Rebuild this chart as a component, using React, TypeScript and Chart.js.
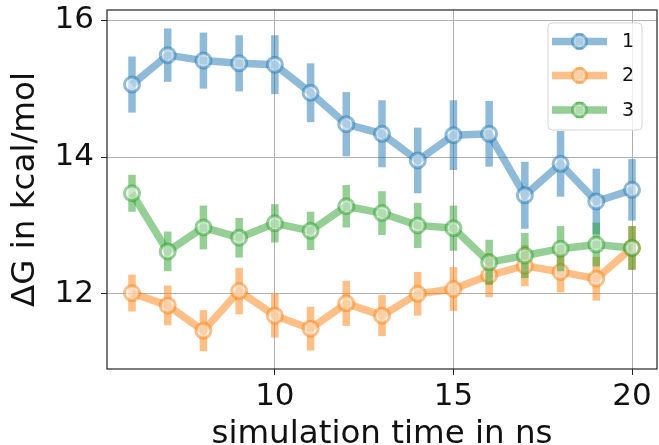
import React, { useEffect, useRef } from "react";
import { Chart, registerables } from "chart.js";

Chart.register(...registerables);

const times = [6, 7, 8, 9, 10, 11, 12, 13, 14, 15, 16, 17, 18, 19, 20];
const series1 = [15.06, 15.49, 15.41, 15.37, 15.35, 14.94, 14.48, 14.34, 13.95, 14.32, 14.34, 13.44, 13.9, 13.35, 13.52];
const err1 = [0.41, 0.39, 0.41, 0.41, 0.43, 0.43, 0.47, 0.49, 0.48, 0.51, 0.48, 0.49, 0.48, 0.48, 0.45];
const series2 = [12.01, 11.83, 11.46, 12.04, 11.68, 11.49, 11.86, 11.68, 12.0, 12.07, 12.27, 12.41, 12.32, 12.22, 12.67];
const err2 = [0.27, 0.29, 0.3, 0.34, 0.32, 0.32, 0.33, 0.3, 0.32, 0.32, 0.32, 0.3, 0.3, 0.32, 0.32];
const series3 = [13.47, 12.62, 12.97, 12.82, 13.03, 12.92, 13.28, 13.18, 13.0, 12.96, 12.46, 12.56, 12.66, 12.72, 12.67];
const err3 = [0.27, 0.29, 0.32, 0.29, 0.28, 0.28, 0.31, 0.32, 0.33, 0.33, 0.33, 0.33, 0.33, 0.32, 0.32];
const seriesLabels = ["1", "2", "3"];
const xTicks = [10, 15, 20];
const yTicks = [12, 14, 16];
const xTitle = "simulation time in ns";
const yTitle = "ΔG in kcal/mol";

const baseColors = ["31,119,180", "255,127,14", "44,160,44"];
const FONT = "'DejaVu Sans', sans-serif";

export default function App() {
  const ref = useRef<HTMLCanvasElement | null>(null);

  useEffect(() => {
    document.body.style.margin = "0";
    const canvas = ref.current;
    if (!canvas) return;
    const values = [series1, series2, series3];
    const errs = [err1, err2, err3];

    const errorBars = {
      id: "errorBars",
      beforeDatasetDraw(chart: any, args: any) {
        const i = args.index;
        const ctx = chart.ctx;
        const xs = chart.scales.x;
        const ys = chart.scales.y;
        const a = chart.chartArea;
        ctx.save();
        ctx.beginPath();
        ctx.rect(a.left, a.top, a.right - a.left, a.bottom - a.top);
        ctx.clip();
        ctx.strokeStyle = `rgba(${baseColors[i]},0.5)`;
        ctx.lineWidth = 7.5;
        ctx.lineCap = "butt";
        times.forEach((t, k) => {
          const x = xs.getPixelForValue(t);
          const y1 = ys.getPixelForValue(values[i][k] + errs[i][k]);
          const y2 = ys.getPixelForValue(values[i][k] - errs[i][k]);
          ctx.beginPath();
          ctx.moveTo(x, y1);
          ctx.lineTo(x, y2);
          ctx.stroke();
        });
        ctx.restore();
      },
    };

    const frameAndLegend = {
      id: "frameAndLegend",
      afterDraw(chart: any) {
        const ctx = chart.ctx;
        const a = chart.chartArea;
        ctx.save();
        ctx.strokeStyle = "#222";
        ctx.lineWidth = 1.2;
        ctx.strokeRect(a.left, a.top, a.right - a.left, a.bottom - a.top);

        // legend
        const lx = 548, ly = 23, lw = 94, lh = 107, r = 4;
        ctx.beginPath();
        ctx.moveTo(lx + r, ly);
        ctx.lineTo(lx + lw - r, ly);
        ctx.quadraticCurveTo(lx + lw, ly, lx + lw, ly + r);
        ctx.lineTo(lx + lw, ly + lh - r);
        ctx.quadraticCurveTo(lx + lw, ly + lh, lx + lw - r, ly + lh);
        ctx.lineTo(lx + r, ly + lh);
        ctx.quadraticCurveTo(lx, ly + lh, lx, ly + lh - r);
        ctx.lineTo(lx, ly + r);
        ctx.quadraticCurveTo(lx, ly, lx + r, ly);
        ctx.closePath();
        ctx.fillStyle = "rgba(255,255,255,0.8)";
        ctx.fill();
        ctx.strokeStyle = "#d5d5d5";
        ctx.lineWidth = 1;
        ctx.stroke();

        const rows = [41.5, 75.5, 110];
        seriesLabels.forEach((lab, i) => {
          const y = rows[i];
          const c = baseColors[i];
          ctx.strokeStyle = `rgba(${c},0.5)`;
          ctx.lineWidth = 7.5;
          ctx.lineCap = "butt";
          ctx.beginPath();
          ctx.moveTo(552, y);
          ctx.lineTo(607, y);
          ctx.stroke();
          ctx.beginPath();
          ctx.moveTo(579.5, y - 8);
          ctx.lineTo(579.5, y + 8);
          ctx.stroke();
          ctx.beginPath();
          ctx.arc(579.5, y, 7, 0, Math.PI * 2);
          ctx.fillStyle = "rgba(255,255,255,0.5)";
          ctx.fill();
          ctx.lineWidth = 3;
          ctx.strokeStyle = `rgba(${c},0.5)`;
          ctx.stroke();
          ctx.fillStyle = "#111";
          ctx.font = `19px ${FONT}`;
          ctx.textAlign = "left";
          ctx.textBaseline = "middle";
          ctx.fillText(lab, 622, y + 1);
        });
        ctx.restore();
      },
    };

    const datasets = values.map((vals, i) => ({
      label: seriesLabels[i],
      data: times.map((t, k) => ({ x: t, y: vals[k] })),
      borderColor: `rgba(${baseColors[i]},0.5)`,
      backgroundColor: `rgba(${baseColors[i]},0.5)`,
      borderWidth: 7.5,
      borderJoinStyle: "miter" as const,
      pointRadius: 7.5,
      pointBorderWidth: 3,
      pointBackgroundColor: "rgba(255,255,255,0.5)",
      pointBorderColor: `rgba(${baseColors[i]},0.5)`,
      tension: 0,
      fill: false,
      order: 3 - i,
    }));

    const zeroPad = (axis: any) => {
      axis.paddingTop = 0;
      axis.paddingBottom = 0;
      axis.paddingLeft = 0;
      axis.paddingRight = 0;
    };

    const chart = new Chart(canvas, {
      type: "line",
      data: { datasets },
      plugins: [errorBars, frameAndLegend],
      options: {
        animation: false,
        responsive: false,
        maintainAspectRatio: false,
        layout: { autoPadding: false, padding: { left: 0, right: 2, top: 10, bottom: 0 } },
        plugins: { legend: { display: false }, tooltip: { enabled: false } },
        scales: {
          x: {
            type: "linear",
            min: 5.3,
            max: 20.7,
            afterBuildTicks: (axis: any) => {
              axis.ticks = xTicks.map((v) => ({ value: v }));
            },
            afterFit: (axis: any) => {
              axis.height = 76;
              zeroPad(axis);
            },
            grid: { color: "#b0b0b0", lineWidth: 1, tickColor: "#222", tickLength: 6, drawTicks: true },
            border: { display: false },
            ticks: { font: { family: FONT, size: 31 }, color: "#111", padding: 3, maxRotation: 0 },
            title: {
              display: true,
              text: xTitle,
              font: { family: FONT, size: 32.5, lineHeight: 0.62 },
              color: "#111",
              padding: { top: 0, bottom: 0 },
            },
          },
          y: {
            type: "linear",
            min: 10.9,
            max: 16.15,
            afterBuildTicks: (axis: any) => {
              axis.ticks = yTicks.map((v) => ({ value: v }));
            },
            afterFit: (axis: any) => {
              axis.width = 107;
              zeroPad(axis);
            },
            grid: { color: "#b0b0b0", lineWidth: 1, tickColor: "#222", tickLength: 6, drawTicks: true },
            border: { display: false },
            ticks: { font: { family: FONT, size: 31 }, color: "#111", padding: 7 },
            title: {
              display: true,
              text: yTitle,
              font: { family: FONT, size: 32.5, lineHeight: 1.2 },
              color: "#111",
              padding: { top: 6, bottom: 0 },
            },
          },
        },
      },
    });
    return () => chart.destroy();
  }, []);

  return (
    <div style={{ width: 659, height: 445 }}>
      <canvas ref={ref} width={659} height={445} style={{ display: "block", width: 659, height: 445 }} />
    </div>
  );
}
